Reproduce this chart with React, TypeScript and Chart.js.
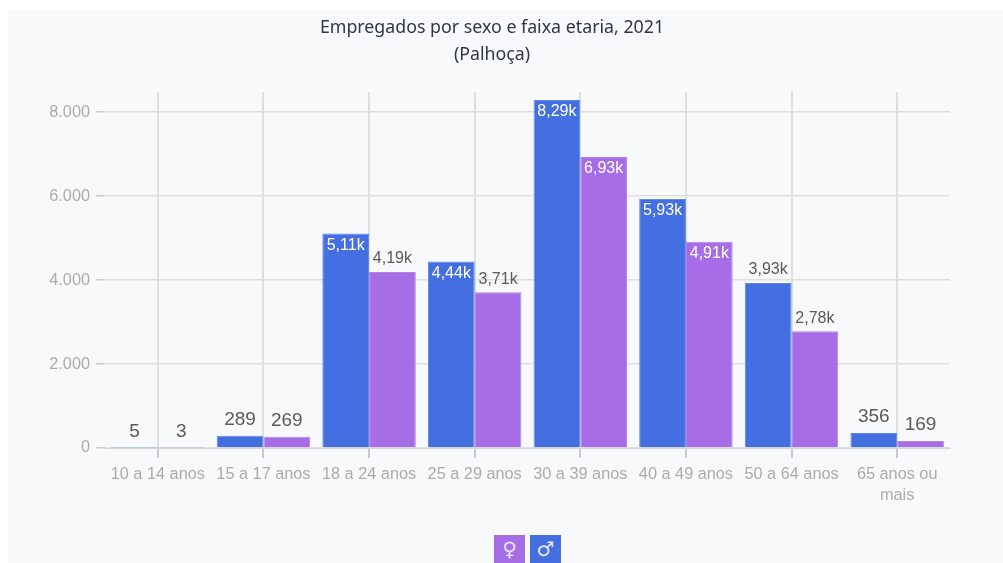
import React, { useEffect, useRef } from "react";
import { Chart, registerables } from "chart.js";

Chart.register(...registerables);

const categories = [
  "10 a 14 anos",
  "15 a 17 anos",
  "18 a 24 anos",
  "25 a 29 anos",
  "30 a 39 anos",
  "40 a 49 anos",
  "50 a 64 anos",
  ["65 anos ou", "mais"],
];
const masculino = [5, 289, 5110, 4440, 8290, 5930, 3930, 356];
const feminino = [3, 269, 4190, 3710, 6930, 4910, 2780, 169];
const yTicks = [0, 2000, 4000, 6000, 8000];
const titleLines = ["Empregados por sexo e faixa etaria, 2021", "(Palhoça)"];

const BLUE = "#446fe0";
const PURPLE = "#a66de6";
const FONT = '"Liberation Sans", Arial, sans-serif';

const formatTick = (v: number) => new Intl.NumberFormat("pt-BR").format(v);
const formatLabel = (v: number) =>
  v >= 1000 ? (v / 1000).toFixed(2).replace(".", ",") + "k" : String(v);

const barLabels = {
  id: "barLabels",
  afterDatasetsDraw(chart: any) {
    const { ctx } = chart;
    chart.data.datasets.forEach((ds: any, di: number) => {
      chart.getDatasetMeta(di).data.forEach((bar: any, i: number) => {
        const v = ds.data[i];
        const inside = v >= 4400;
        const small = v < 1000;
        ctx.save();
        ctx.font = `${small ? 19 : 16}px ${FONT}`;
        ctx.textAlign = "center";
        ctx.textBaseline = "middle";
        ctx.fillStyle = inside ? "#ffffff" : "#5a5a5a";
        const dy = inside ? 12 : small ? -16 : -13;
        ctx.fillText(formatLabel(v), bar.x, bar.y + dy);
        ctx.restore();
      });
    });
  },
};

export default function App() {
  const ref = useRef<HTMLCanvasElement>(null);

  useEffect(() => {
    document.body.style.margin = "0";
    document.body.style.overflow = "hidden";
    const chart = new Chart(ref.current!, {
      type: "bar",
      data: {
        labels: categories as any,
        datasets: [
          {
            label: "♂",
            data: masculino,
            backgroundColor: BLUE,
            borderColor: "#5f86e6",
            borderWidth: 1,
            barPercentage: 1,
            categoryPercentage: 0.885,
          },
          {
            label: "♀",
            data: feminino,
            backgroundColor: PURPLE,
            borderColor: "#b183e9",
            borderWidth: 1,
            barPercentage: 1,
            categoryPercentage: 0.885,
          },
        ],
      },
      options: {
        responsive: false,
        animation: false,
        layout: { padding: { left: 34, right: 34, top: 0, bottom: 0 } },
        plugins: {
          legend: { display: false },
          tooltip: { enabled: false },
          title: {
            display: true,
            text: titleLines,
            color: "#2f3648",
            font: { family: '"Noto Sans", sans-serif', size: 17.8, weight: "normal", lineHeight: 1.52 },
            padding: { top: 14, bottom: 24 },
          },
        },
        scales: {
          x: {
            offset: true,
            grid: {
              offset: false,
              color: "#dedfe1",
              lineWidth: 2,
              tickColor: "#c8c9cc",
              tickLength: 10,
            },
            border: { color: "#d4d5d8", width: 1 },
            ticks: {
              color: "#ababab",
              font: { family: FONT, size: 16.3, lineHeight: 1.3 },
              maxRotation: 0,
              autoSkip: false,
              padding: 6,
            },
            afterFit(scale: any) {
              scale.height = 115;
            },
          },
          y: {
            min: 0,
            max: 8476,
            afterBuildTicks(scale: any) {
              scale.ticks = yTicks.map((value) => ({ value }));
            },
            grid: {
              color: "#dedfe1",
              lineWidth: 1.5,
              tickColor: "#c8c9cc",
              tickLength: 9,
            },
            border: { display: false },
            ticks: {
              color: "#ababab",
              font: { family: FONT, size: 16.3 },
              padding: 6,
              callback: (v: any) => formatTick(Number(v)),
            },
            afterFit(scale: any) {
              scale.width = 71;
            },
          },
        },
      },
      plugins: [barLabels],
    } as any);
    return () => chart.destroy();
  }, []);

  const box: React.CSSProperties = {
    position: "absolute",
    top: 535,
    width: 31,
    height: 28,
    color: "#e8e4f8",
    fontFamily: '"DejaVu Sans", sans-serif',
    fontSize: 20,
    lineHeight: "28px",
    textAlign: "center",
  };

  return (
    <div style={{ position: "relative", width: 1003, height: 563, overflow: "hidden", background: "#ffffff" }}>
      <div style={{ position: "absolute", left: 8, top: 11, right: 0, bottom: 0, background: "#f8f9fb" }} />
      <canvas ref={ref} width={984} height={563} style={{ position: "absolute", left: 0, top: 0 }} />
      <div style={{ ...box, left: 494, background: PURPLE }}>♀</div>
      <div style={{ ...box, left: 530, background: BLUE }}>♂</div>
    </div>
  );
}
